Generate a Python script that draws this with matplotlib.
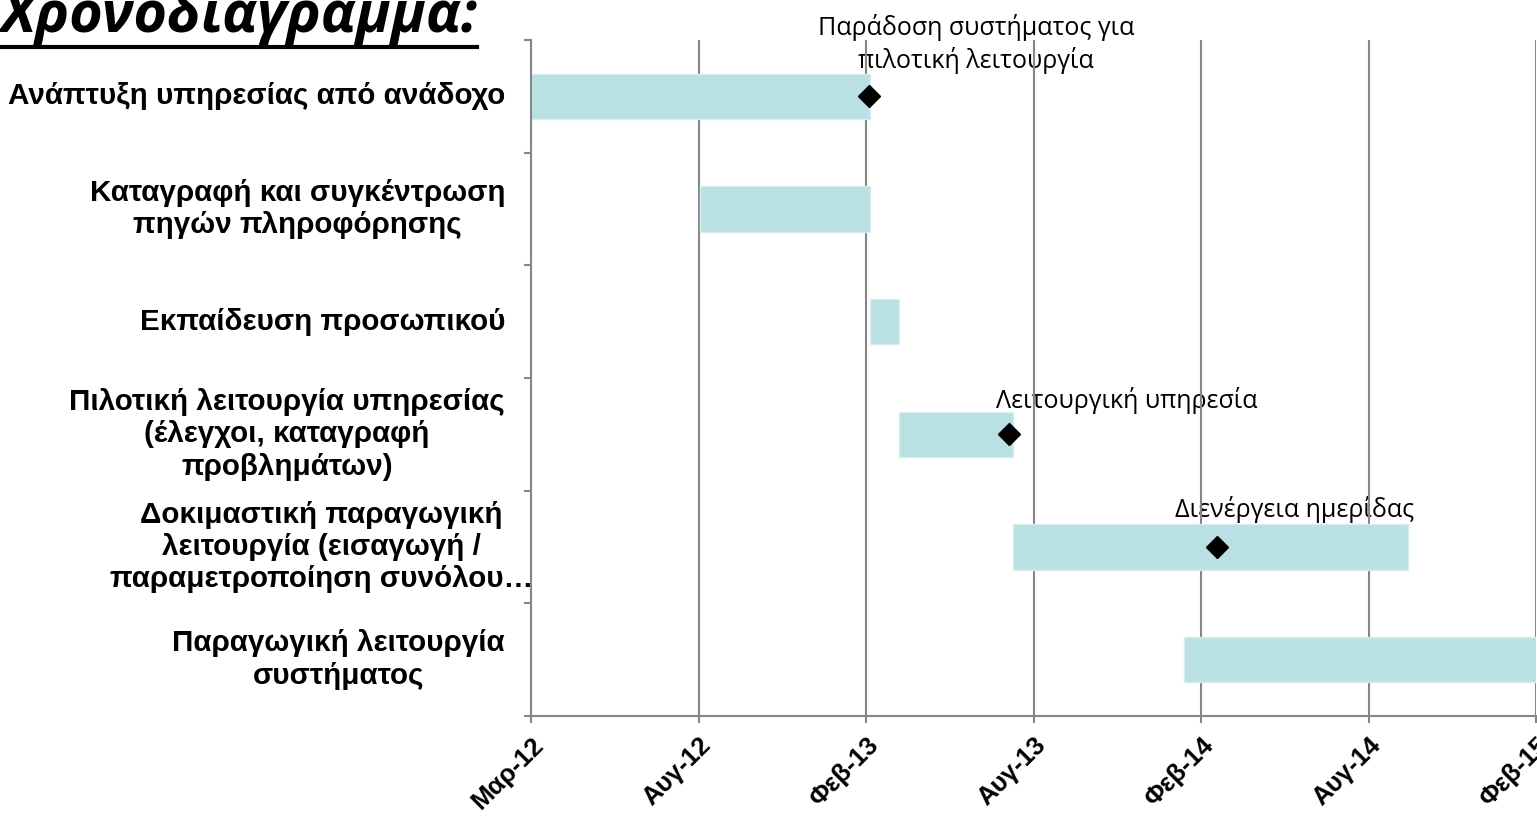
import matplotlib
import matplotlib.pyplot as plt
import matplotlib.dates as mdates
import matplotlib.transforms as mtransforms
import numpy as np

matplotlib.use('Agg')

# tasks, top to bottom
tasks = [
    "Ανάπτυξη υπηρεσίας από ανάδοχο",
    "Καταγραφή και συγκέντρωση\nπηγών πληροφόρησης",
    "Εκπαίδευση προσωπικού",
    "Πιλοτική λειτουργία υπηρεσίας\n(έλεγχοι, καταγραφή\nπροβλημάτων)",
    "Δοκιμαστική παραγωγική\nλειτουργία (εισαγωγή /\nπαραμετροποίηση συνόλου…",
    "Παραγωγική λειτουργία\nσυστήματος",
]
starts = ["2012-03-01", "2012-09-01", "2013-03-05", "2013-04-06", "2013-08-08", "2014-02-10"]
ends = ["2013-03-05", "2013-03-05", "2013-04-06", "2013-08-08", "2014-10-13", "2015-03-01"]

# milestones: task row, date, label
ms_rows = [0, 3, 4]
ms_dates = ["2013-03-04", "2013-08-04", "2014-03-18"]
ms_labels = ["Παράδοση συστήματος για\nπιλοτική λειτουργία",
             "Λειτουργική υπηρεσία",
             "Διενέργεια ημερίδας"]

tick_labels = ["Μαρ-12", "Αυγ-12", "Φεβ-13", "Αυγ-13", "Φεβ-14", "Αυγ-14", "Φεβ-15"]
x_min, x_max = "2012-03-01", "2015-03-01"

W, H = 1537, 816
fig = plt.figure(figsize=(W / 100, H / 100), dpi=100)
ax = fig.add_axes([531 / W, 1 - 716 / H, 1005 / W, 676 / H])

s = mdates.datestr2num(starts)
e = mdates.datestr2num(ends)
y = np.arange(len(tasks))
ax.barh(y, e - s, left=s, height=0.4, color='#b9e0e3', edgecolor='#d9eef0',
        linewidth=1, zorder=2)

md = mdates.datestr2num(ms_dates)
ax.plot(md, ms_rows, 'D', color='black', markersize=11, linestyle='none', zorder=3)

label_offsets = [(107, 22), (118, 20), (78, 24)]
for xd, r, lab, off in zip(md, ms_rows, ms_labels, label_offsets):
    ax.annotate(lab, (xd, r), xytext=off, textcoords='offset pixels',
                ha='center', va='bottom', fontsize=18, family='Open Sans',
                multialignment='center', zorder=0.4, annotation_clip=False,
                linespacing=1.3)

x0, x1 = mdates.datestr2num([x_min, x_max])
ax.set_xlim(x0, x1)
ax.set_ylim(len(tasks) - 0.5, -0.5)

ax.set_xticks(np.linspace(x0, x1, len(tick_labels)))
ax.set_xticklabels(tick_labels, rotation=45, ha='right', rotation_mode='anchor',
                   fontsize=18.5, fontweight='bold', family='Liberation Sans')
shift = mtransforms.ScaledTranslation(-13 / 100, 0, fig.dpi_scale_trans)
for lbl in ax.get_xticklabels():
    lbl.set_transform(lbl.get_transform() + shift)
ax.tick_params(axis='x', length=5, width=1.5, color='#868686', pad=7)
ax.grid(axis='x', color='#868686', linewidth=1.5)
ax.set_axisbelow(True)

ax.set_yticks(np.arange(len(tasks) + 1) - 0.5)
ax.set_yticklabels([])
ax.tick_params(axis='y', length=5, width=1.5, color='#868686')

for sp in ['top', 'right']:
    ax.spines[sp].set_visible(False)
for sp in ['left', 'bottom']:
    ax.spines[sp].set_color('#868686')
    ax.spines[sp].set_linewidth(1.5)

# category labels, right aligned left of the axis
label_x = [-26, -26, -26, -26, 2, -26]
for i, (t, dx) in enumerate(zip(tasks, label_x)):
    ax.text(dx / 1005, i, t, transform=ax.get_yaxis_transform(), ha='right',
            va='center', multialignment='center', fontsize=21.3, fontweight='bold',
            family='Liberation Sans', linespacing=1.2)

title = fig.text(0, 1 - 32 / H, "Χρονοδιάγραμμα:", ha='left', va='baseline',
                 fontsize=41.5, fontweight='bold', style='italic', family='Open Sans')
fig.canvas.draw()
bb = title.get_window_extent()
fig.add_artist(plt.Line2D([bb.x0 / W, bb.x1 / W], [1 - 47 / H, 1 - 47 / H],
                          color='black', linewidth=3, transform=fig.transFigure))

fig.savefig("out.png", dpi=100)
